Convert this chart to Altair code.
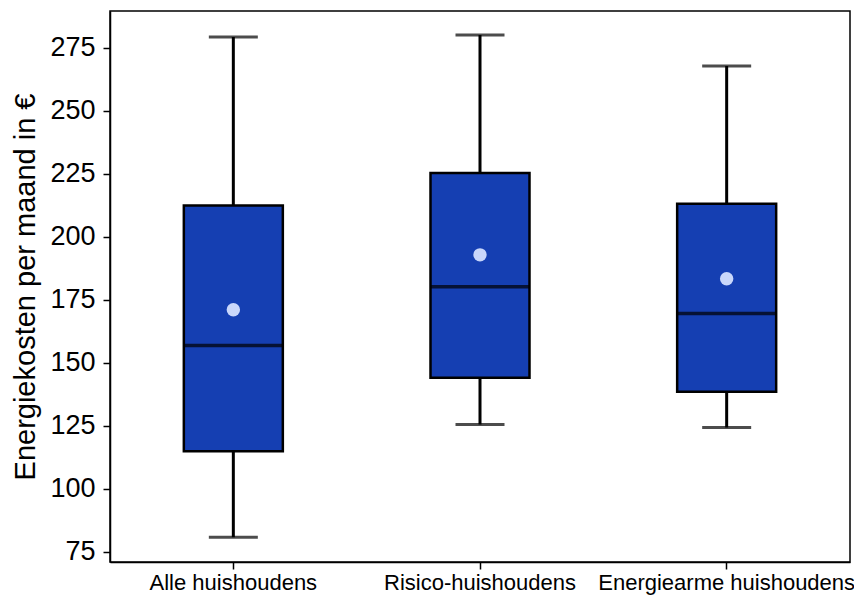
import altair as alt
import pandas as pd

categories = ["Alle huishoudens", "Risico-huishoudens", "Energiearme huishoudens"]
whisker_low = [80.8, 125.5, 124.3]
q1 = [114.9, 144.1, 138.5]
median = [156.9, 180.2, 169.5]
q3 = [212.4, 225.3, 213.1]
whisker_high = [279.2, 280.0, 267.7]
mean = [171.0, 192.8, 183.3]
y_ticks = [75, 100, 125, 150, 175, 200, 225, 250, 275]

df = pd.DataFrame({
    "cat": categories,
    "low": whisker_low,
    "q1": q1,
    "median": median,
    "q3": q3,
    "high": whisker_high,
    "mean": mean,
})

FONT = "Liberation Sans"
x = alt.X("cat:N", sort=categories, title=None,
          scale=alt.Scale(paddingInner=0, paddingOuter=0),
          axis=alt.Axis(labelAngle=0, labelFontSize=22, labelFont=FONT, labelColor="black",
                        labelLimit=0, labelOverlap=False,
                        tickSize=7, tickColor="black", tickWidth=1.5, labelPadding=3,
                        domainColor="black", domainWidth=1.5))
yscale = alt.Scale(domain=[71, 289.5], nice=False, zero=False)
yaxis = alt.Axis(values=y_ticks, grid=False, labelFontSize=27, labelFont=FONT, labelColor="black",
                 tickSize=7, tickColor="black", tickWidth=1.5, labelPadding=8,
                 domainColor="black", domainWidth=1.5,
                 title="Energiekosten per maand in €", titleFont=FONT, titleFontSize=29,
                 titleFontWeight="normal", titleColor="black", titlePadding=9)

base = alt.Chart(df)

whisk = base.mark_rule(color="black", strokeWidth=3).encode(
    x=x, y=alt.Y("low:Q", scale=yscale, axis=yaxis), y2="high:Q")
caps_low = base.mark_tick(color="black", size=49, thickness=3).encode(x=x, y=alt.Y("low:Q", scale=yscale))
caps_high = base.mark_tick(color="black", size=49, thickness=3).encode(x=x, y=alt.Y("high:Q", scale=yscale))
box = base.mark_bar(color="#153fb2", stroke="black", strokeWidth=2.5, size=99).encode(
    x=x, y=alt.Y("q1:Q", scale=yscale), y2="q3:Q")
med = base.mark_tick(color="black", size=99, thickness=3.5).encode(x=x, y=alt.Y("median:Q", scale=yscale))
mn = base.mark_point(filled=True, color="#c9d7fb", size=180, opacity=1, shape="circle").encode(
    x=x, y=alt.Y("mean:Q", scale=yscale))

chart = alt.layer(whisk, caps_low, caps_high, box, med, mn).properties(
    width=740, height=551,
    autosize=alt.AutoSizeParams(type="none"),
    padding={"left": 102, "top": 3, "right": 4, "bottom": 34},
).configure(
    background="white",
    view=alt.ViewConfig(stroke="black", strokeWidth=1.5),
)

chart.save("out.html", embed_options={"renderer": "svg", "actions": False})
